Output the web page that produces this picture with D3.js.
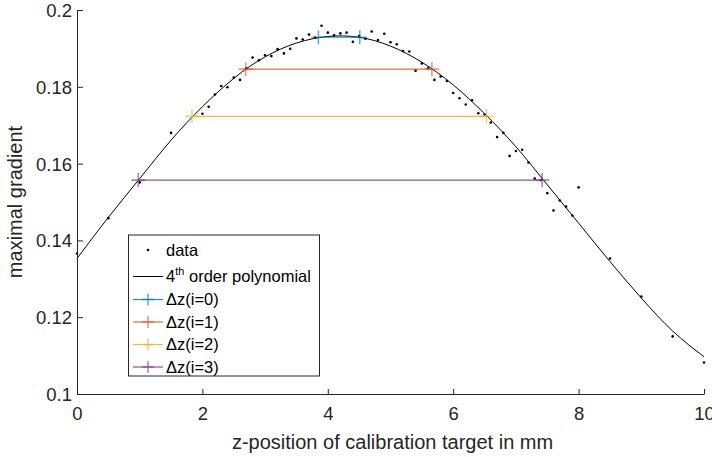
<!DOCTYPE html>
<html>
<head>
<meta charset="utf-8">
<script src="https://cdn.jsdelivr.net/npm/d3@7"></script>
<style>
  html, body { margin: 0; padding: 0; background: #fff; }
  svg { display: block; font-family: "Liberation Sans", Arial, Helvetica, sans-serif; }
</style>
</head>
<body>
<svg id="chart" width="712" height="457"></svg>
<script>
// ---------------- data ----------------
const zData = [0, 0.5, 1, 1.5,
  2.0, 2.1, 2.2, 2.3, 2.4, 2.5, 2.6, 2.7, 2.8, 2.9,
  3.0, 3.1, 3.2, 3.3, 3.4, 3.5, 3.6, 3.7, 3.8, 3.9,
  4.0, 4.1, 4.2, 4.3, 4.4, 4.5, 4.6, 4.7, 4.8, 4.9,
  5.0, 5.1, 5.2, 5.3, 5.4, 5.5, 5.6, 5.7, 5.8, 5.9,
  6.0, 6.1, 6.2, 6.3, 6.4, 6.5, 6.6, 6.7, 6.8, 6.9,
  7.0, 7.1, 7.2, 7.3, 7.4, 7.5, 7.6, 7.7, 7.8, 7.9,
  8.0, 8.5, 9.0, 9.5, 10];
const gData = [0.1366, 0.1458, 0.1551, 0.1680,
  0.1730, 0.1748, 0.1780, 0.1802, 0.1799, 0.1824, 0.1818, 0.1848, 0.1876, 0.1869,
  0.1882, 0.1880, 0.1898, 0.1887, 0.1899, 0.1926, 0.1923, 0.1936, 0.1928, 0.1959,
  0.1941, 0.1934, 0.1939, 0.1941, 0.1917, 0.1932, 0.1925, 0.1944, 0.1922, 0.1938,
  0.1916, 0.1911, 0.1893, 0.1892, 0.1842, 0.1861, 0.1848, 0.1818, 0.1827, 0.1815,
  0.1784, 0.1770, 0.1754, 0.1765, 0.1731, 0.1728, 0.1707, 0.1669, 0.1680, 0.1620,
  0.1633, 0.1636, 0.1603, 0.1561, 0.1557, 0.1523, 0.1478, 0.1504, 0.1488, 0.1465,
  0.1538, 0.1353, 0.1254, 0.1150, 0.1082];

const zFit = [0, 0.5, 1, 1.5, 2, 2.5, 3, 3.5, 4, 4.5, 5, 5.5, 6, 6.5, 7, 7.5, 8, 8.5, 9, 9.5, 10];
const gFit = [0.1353, 0.1460, 0.1561, 0.1661, 0.1748, 0.1822, 0.1878, 0.1914, 0.1931, 0.1929,
  0.1906, 0.1864, 0.1805, 0.1730, 0.1644, 0.1545, 0.1445, 0.1345, 0.1250, 0.1164, 0.1097];

// Delta z intervals
const dzNames = ["Δz(i=0)", "Δz(i=1)", "Δz(i=2)", "Δz(i=3)"];
const dzLeft  = [3.85, 2.69, 1.834, 0.978];
const dzRight = [4.51, 5.66, 6.53, 7.42];
const dzLevel = [0.1929, 0.1846, 0.1723, 0.1557];
const dzColors = ["#0072BD", "#D95319", "#EDB120", "#7E2F8E"];

const xTicks = [0, 2, 4, 6, 8, 10];
const yTicks = [0.1, 0.12, 0.14, 0.16, 0.18, 0.2];

// ---------------- layout ----------------
const W = 712, H = 457;
const m = { left: 77, right: 8, top: 10, bottom: 63 };
const svg = d3.select("#chart");
const x = d3.scaleLinear().domain([0, 10]).range([m.left, W - m.right]);
const y = d3.scaleLinear().domain([0.1, 0.2]).range([H - m.bottom, m.top]);
const axisColor = "#262626";

// fitted curve
const line = d3.line().x((d, i) => x(zFit[i])).y((d, i) => y(gFit[i])).curve(d3.curveNatural);
svg.append("path").datum(gFit).attr("d", line)
  .attr("fill", "none").attr("stroke", "#000").attr("stroke-width", 1);

// data dots
svg.append("g").selectAll("circle").data(gData).join("circle")
  .attr("cx", (d, i) => x(zData[i])).attr("cy", d => y(d))
  .attr("r", 1.3).attr("fill", "#000");

// delta z lines with + markers
const plusPath = s => `M${-s},0H${s}M0,${-s}V${s}`;
dzLevel.forEach((lv, i) => {
  const g = svg.append("g");
  g.append("line")
    .attr("x1", x(dzLeft[i])).attr("x2", x(dzRight[i]))
    .attr("y1", y(lv)).attr("y2", y(lv))
    .attr("stroke", dzColors[i]).attr("stroke-width", 1.2).attr("stroke-opacity", 0.85);
  [dzLeft[i], dzRight[i]].forEach(zv => {
    g.append("path").attr("d", plusPath(7))
      .attr("transform", `translate(${x(zv)},${y(lv)})`)
      .attr("stroke", dzColors[i]).attr("stroke-width", 1.6).attr("stroke-opacity", 0.6)
      .attr("fill", "none");
  });
});

// axes
const xAxis = d3.axisBottom(x).tickValues(xTicks).tickFormat(d3.format("d"))
  .tickSizeInner(-5).tickSizeOuter(0).tickPadding(13);
const gx = svg.append("g").attr("transform", `translate(0,${H - m.bottom})`).call(xAxis);
const yAxis = d3.axisLeft(y).tickValues(yTicks).tickFormat(d => String(+d.toFixed(2)))
  .tickSizeInner(-6).tickSizeOuter(0).tickPadding(5);
const gy = svg.append("g").attr("transform", `translate(${m.left},0)`).call(yAxis);
[gx, gy].forEach(g => {
  g.select(".domain").attr("stroke", axisColor).attr("stroke-width", 1);
  g.selectAll(".tick line").attr("stroke", axisColor).attr("stroke-width", 1);
  g.selectAll(".tick text").attr("fill", axisColor)
    .style("font-size", "18.5px").style("font-family", "'Liberation Sans', Arial, sans-serif");
});
gy.selectAll(".tick text").attr("dy", "0.35em");

// axis labels
svg.append("text").attr("x", (m.left + W - m.right) / 2 + 2).attr("y", 449)
  .attr("text-anchor", "middle").attr("fill", axisColor).style("font-size", "20px")
  .text("z-position of calibration target in mm");
svg.append("text").attr("transform", `translate(22,${(m.top + H - m.bottom) / 2}) rotate(-90)`)
  .attr("text-anchor", "middle").attr("fill", axisColor).style("font-size", "20px")
  .text("maximal gradient");

// legend
const lg = svg.append("g");
const lx0 = 128.5, ly0 = 235, lw = 191, lh = 141;
lg.append("rect").attr("x", lx0).attr("y", ly0).attr("width", lw).attr("height", lh)
  .attr("fill", "#fff").attr("stroke", axisColor).attr("stroke-width", 1);
const rowY = [250, 276.5, 299.5, 322, 344.5, 367];
const sx1 = 133, sx2 = 163, sxc = 148, tx = 166;
// data
lg.append("circle").attr("cx", sxc).attr("cy", rowY[0]).attr("r", 1.3).attr("fill", "#000");
lg.append("text").attr("x", tx).attr("y", rowY[0]).attr("dy", "0.35em")
  .style("font-size", "16.5px").attr("fill", "#000").text("data");
// polynomial
lg.append("line").attr("x1", sx1).attr("x2", sx2).attr("y1", rowY[1]).attr("y2", rowY[1])
  .attr("stroke", "#000").attr("stroke-width", 1);
const pt = lg.append("text").attr("x", tx).attr("y", rowY[1]).attr("dy", "0.35em")
  .style("font-size", "16.5px").attr("fill", "#000");
pt.append("tspan").text("4");
pt.append("tspan").attr("dy", -7).style("font-size", "11px").text("th");
pt.append("tspan").attr("dy", 7).text(" order polynomial");
// delta z entries
dzNames.forEach((nm, i) => {
  const yy = rowY[i + 2];
  lg.append("line").attr("x1", sx1).attr("x2", sx2).attr("y1", yy).attr("y2", yy)
    .attr("stroke", dzColors[i]).attr("stroke-width", 1.2).attr("stroke-opacity", 0.85);
  lg.append("path").attr("d", plusPath(6)).attr("transform", `translate(${sxc},${yy})`)
    .attr("stroke", dzColors[i]).attr("stroke-width", 1.6).attr("stroke-opacity", 0.6).attr("fill", "none");
  lg.append("text").attr("x", tx).attr("y", yy).attr("dy", "0.35em")
    .style("font-size", "16.5px").attr("fill", "#000").text(nm);
});
</script>
</body>
</html>
